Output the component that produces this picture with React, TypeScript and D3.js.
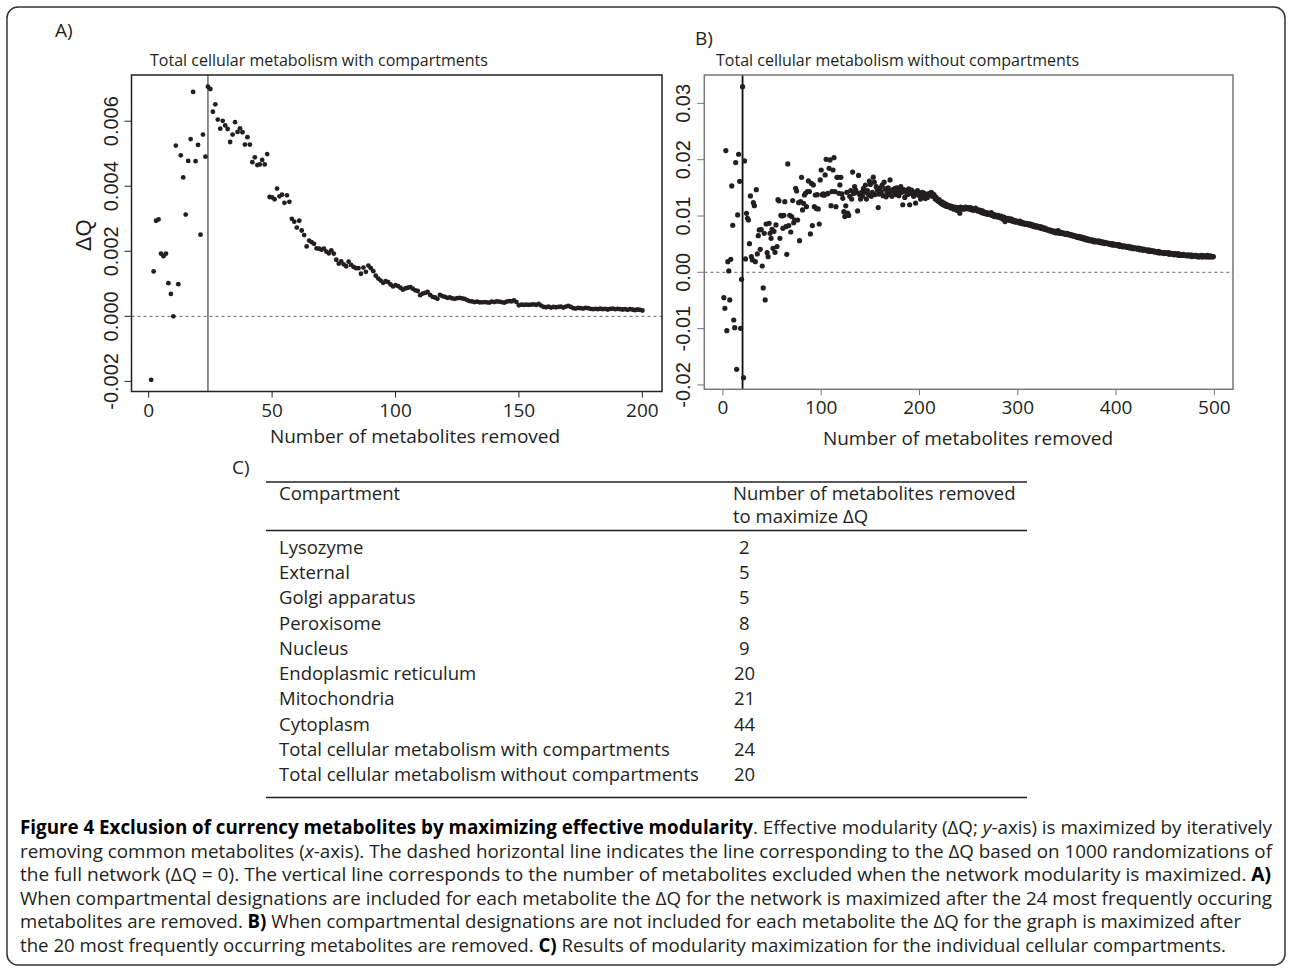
import React from "react";
import * as d3 from "d3";

// panel A: ΔQ (x 1e-5) for 1..200 metabolites removed, with compartments
const dqWith = [
  -195, 138, 294, 298, 193, 185, 193, 102, 69, 0,
  525, 99, 495, 427, 313, 478, 545, 690, 477, 527,
  251, 559, 491, 706, 699, 629, 652, 605, 577, 601,
  587, 576, 536, 559, 597, 567, 578, 566, 528, 551,
  528, 474, 489, 465, 467, 481, 467, 499, 367, 366,
  360, 393, 369, 374, 349, 372, 352, 300, 291, 273,
  294, 264, 250, 215, 233, 228, 223, 209, 208, 205,
  208, 199, 194, 203, 193, 174, 162, 169, 160, 154,
  168, 158, 152, 148, 148, 131, 150, 137, 156, 148,
  139, 125, 116, 110, 103, 108, 105, 98, 92, 96,
  93, 88, 82, 86, 88, 90, 85, 80, 78, 65,
  70, 72, 75, 66, 60, 58, 54, 66, 62, 60,
  57, 58, 55, 54, 56, 57, 55, 54, 50, 47,
  46, 44, 45, 43, 43, 44, 43, 42, 45, 44,
  46, 45, 44, 42, 45, 47, 46, 49, 44, 34,
  36, 35, 36, 35, 36, 37, 35, 38, 33, 29,
  28, 30, 27, 29, 28, 29, 30, 27, 30, 32,
  29, 25, 24, 26, 25, 24, 26, 25, 23, 22,
  23, 22, 24, 22, 23, 21, 23, 24, 22, 23,
  22, 21, 22, 20, 22, 21, 19, 21, 20, 18,
];

// panel B: ΔQ (x 1e-5) for 1..500 metabolites removed, without compartments
const dqWithout = [
  -450, -639, 2161, -1036, 189, 24, -491, 231, 1533, 835,
  -847, -983, 1948, -1723, 1018, 2096, 1616, -995, -124, 3297,
  -1871, 1977, 237, 1048, 959, 929, 509, 1356, 278, 219,
  1237, 1184, 189, 1468, 326, 651, 752, 408, 758, 112,
  -278, 693, -491, 858, 349, 278, 870, 693, 604, 764,
  426, 728, 355, 841, 456, 1290, 1270, 604, 1012, 1000,
  781, 1012, 1255, 811, 320, 1924, 829, 1012, 716, 989,
  1273, 882, 929, 1492, 1444, 929, 1237, 562, 1255, 1687,
  1107, 1225, 1373, 1403, 1166, 1433, 1622, 1433, 681, 1581,
  829, 1551, 1166, 1373, 1131, 1379, 1125, 858, 1640, 1817,
  1379, 1391, 1367, 1729, 2007, 1391, 1403, 1847, 1995, 1184,
  1433, 1817, 2036, 1433, 1166, 1687, 1687, 1403, 1551, 1687,
  1391, 1314, 1077, 989, 1180, 1420, 1050, 1010, 1350, 1450,
  1300, 1780, 1400, 1520, 1460, 1420, 1090, 1720, 1380, 1300,
  1420, 1350, 1490, 1420, 1550, 1300, 1450, 1380, 1620, 1560,
  1350, 1420, 1690, 1600, 1380, 1520, 1460, 1150, 1390, 1500,
  1430, 1550, 1360, 1600, 1480, 1340, 1420, 1500, 1380, 1640,
  1450, 1350, 1470, 1410, 1490, 1380, 1500, 1440, 1360, 1480,
  1520, 1420, 1200, 1470, 1330, 1450, 1410, 1380, 1480, 1200,
  1400, 1460, 1430, 1350, 1420, 1230, 1390, 1450, 1370, 1410,
  1300, 1380, 1420, 1340, 1400, 1310, 1370, 1330, 1390, 1400,
  1380, 1420, 1350, 1390, 1370, 1300, 1330, 1280, 1260, 1290,
  1240, 1220, 1250, 1200, 1230, 1180, 1210, 1170, 1190, 1160,
  1180, 1140, 1170, 1150, 1120, 1160, 1130, 1100, 1150, 1140,
  1050, 1160, 1130, 1150, 1120, 1140, 1160, 1130, 1150, 1140,
  1120, 1150, 1110, 1130, 1100, 1120, 1140, 1110, 1090, 1110,
  1080, 1100, 1060, 1090, 1050, 1070, 1040, 1060, 1030, 1050,
  1040, 1020, 1060, 1010, 1030, 990, 1020, 1000, 980, 1010,
  990, 970, 1000, 960, 940, 980, 900, 950, 930, 960,
  940, 920, 950, 910, 930, 900, 920, 890, 910, 900,
  880, 910, 870, 890, 860, 880, 870, 850, 870, 860,
  840, 860, 830, 850, 820, 840, 810, 830, 800, 820,
  810, 790, 810, 780, 800, 770, 790, 760, 770, 750,
  760, 740, 750, 730, 740, 720, 710, 730, 700, 720,
  740, 700, 690, 710, 690, 700, 680, 690, 670, 690,
  670, 680, 660, 670, 650, 660, 640, 650, 630, 640,
  620, 640, 610, 630, 600, 620, 590, 610, 580, 600,
  570, 590, 560, 580, 570, 550, 570, 540, 560, 550,
  540, 560, 530, 550, 520, 540, 530, 510, 530, 520,
  510, 520, 500, 510, 490, 510, 480, 500, 490, 480,
  490, 470, 490, 460, 480, 470, 450, 470, 460, 460,
  440, 460, 450, 430, 450, 440, 420, 440, 430, 420,
  430, 410, 430, 400, 420, 410, 390, 410, 400, 400,
  390, 380, 400, 370, 390, 380, 370, 380, 360, 370,
  360, 350, 370, 340, 360, 350, 340, 350, 330, 350,
  340, 330, 350, 320, 340, 330, 320, 330, 310, 330,
  320, 310, 330, 300, 320, 310, 300, 320, 300, 310,
  300, 290, 310, 300, 290, 310, 280, 300, 290, 290,
  300, 280, 290, 270, 290, 280, 300, 270, 290, 280,
  290, 270, 300, 280, 270, 290, 280, 270, 280,
];

const peakWith = 24;
const peakWithout = 20;

const xTicksA = [0, 50, 100, 150, 200];
const yTicksA = [-0.002, 0, 0.002, 0.004, 0.006];
const xTicksB = [0, 100, 200, 300, 400, 500];
const yTicksB = [-0.02, -0.01, 0, 0.01, 0.02, 0.03];

const compartments = [
  "Lysozyme",
  "External",
  "Golgi apparatus",
  "Peroxisome",
  "Nucleus",
  "Endoplasmic reticulum",
  "Mitochondria",
  "Cytoplasm",
  "Total cellular metabolism with compartments",
  "Total cellular metabolism without compartments",
];
const removedCounts = [2, 5, 5, 8, 9, 20, 21, 44, 24, 20];

// caption, one entry per printed line: [text, style]
const captionLines: [string, string][][] = [
  [
    ["Figure 4 Exclusion of currency metabolites by maximizing effective modularity", "b"],
    [". Effective modularity (ΔQ; ", ""],
    ["y", "i"],
    ["-axis) is maximized by iteratively", ""],
  ],
  [
    ["removing common metabolites (", ""],
    ["x", "i"],
    ["-axis). The dashed horizontal line indicates the line corresponding to the ΔQ based on 1000 randomizations of", ""],
  ],
  [
    ["the full network (ΔQ = 0). The vertical line corresponds to the number of metabolites excluded when the network modularity is maximized. ", ""],
    ["A)", "b"],
  ],
  [["When compartmental designations are included for each metabolite the ΔQ for the network is maximized after the 24 most frequently occuring", ""]],
  [
    ["metabolites are removed. ", ""],
    ["B)", "b"],
    [" When compartmental designations are not included for each metabolite the ΔQ for the graph is maximized after", ""],
  ],
  [
    ["the 20 most frequently occurring metabolites are removed. ", ""],
    ["C)", "b"],
    [" Results of modularity maximization for the individual cellular compartments.", ""],
  ],
];
const captionWidths = [1252, 1252, 1251, 1252, 1221, 1206];

const sans = "'Open Sans', sans-serif";
const helv = "'Liberation Sans', Arial, sans-serif";
const ink = "#231f20";

// R style: pad the data range by 4% on both sides
function padded(vals: number[]): [number, number] {
  const [lo, hi] = d3.extent(vals) as [number, number];
  const r = hi - lo;
  return [lo - 0.04 * r, hi + 0.04 * r];
}

function Scatter({ values, peak, xTicks, yTicks, box, title, titleX, xlabX, xlabDy, yFmt, vColor, boxColor, dot, ylabel }) {
  const ys = values.map((v) => v / 1e5);
  const xs = values.map((_, i) => i + 1);
  const x = d3.scaleLinear().domain(padded(xs)).range([box.left, box.right]);
  const y = d3.scaleLinear().domain(padded(ys)).range([box.bottom, box.top]);
  const fmt = d3.format(yFmt);
  return (
    <g>
      <text x={titleX} y={box.top - 9} fontFamily={sans} fontSize={16} fill={ink}>
        {title}
      </text>
      <line x1={box.left} x2={box.right} y1={y(0)} y2={y(0)} stroke="#666" strokeWidth={1} strokeDasharray="3,3" />
      <line x1={x(peak)} x2={x(peak)} y1={box.top} y2={box.bottom} stroke={vColor} strokeWidth={1.8} />
      {ys.map((v, i) => (
        <circle key={i} cx={x(xs[i])} cy={y(v)} r={dot} fill={ink} />
      ))}
      <rect
        x={box.left}
        y={box.top}
        width={box.right - box.left}
        height={box.bottom - box.top}
        fill="none"
        stroke={boxColor}
        strokeWidth={1.5}
      />
      {xTicks.map((t) => (
        <g key={t}>
          <line x1={x(t)} x2={x(t)} y1={box.bottom} y2={box.bottom + 6} stroke={boxColor} strokeWidth={1} />
          <text x={x(t)} y={box.bottom + 25} textAnchor="middle" fontFamily={sans} fontSize={19} fill={ink}>
            {t}
          </text>
        </g>
      ))}
      {yTicks.map((t) => (
        <g key={t}>
          <line x1={box.left - 7} x2={box.left} y1={y(t)} y2={y(t)} stroke={boxColor} strokeWidth={1} />
          <text
            transform={`translate(${box.left - 14},${y(t)}) rotate(-90)`}
            textAnchor="middle"
            fontFamily={helv}
            fontSize={20}
            fill={ink}
          >
            {fmt(t).replace("−", "-")}
          </text>
        </g>
      ))}
      <text x={xlabX} y={box.bottom + xlabDy} textAnchor="middle" fontFamily={sans} fontSize={19} fill={ink}>
        Number of metabolites removed
      </text>
      {ylabel && (
        <text
          transform={`translate(${box.left - 41},${(box.top + box.bottom) / 2 + 2}) rotate(-90)`}
          textAnchor="middle"
          fontFamily={helv}
          fontSize={22}
          fill={ink}
        >
          ΔQ
        </text>
      )}
    </g>
  );
}

export default function App() {
  const rowY = d3
    .scalePoint<string>()
    .domain(compartments)
    .range([554, 781]);

  return (
    <svg width={1292} height={972} style={{ position: "absolute", left: 0, top: 0, background: "#fff" }}>
      <rect x={7} y={7} width={1278} height={958} rx={11} fill="#fff" stroke="#333" strokeWidth={1.5} />

      <text x={55} y={37} fontFamily={sans} fontSize={19} fill={ink}>
        A)
      </text>
      <text x={695} y={45} fontFamily={sans} fontSize={19} fill={ink}>
        B)
      </text>

      <Scatter
        values={dqWith}
        peak={peakWith}
        xTicks={xTicksA}
        yTicks={yTicksA}
        box={{ left: 131.5, right: 662, top: 75, bottom: 391.5 }}
        title="Total cellular metabolism with compartments"
        titleX={150}
        xlabX={415}
        xlabDy={51}
        yFmt=".3f"
        vColor="#808080"
        boxColor="#222"
        dot={2.4}
        ylabel
      />
      <Scatter
        values={dqWithout}
        peak={peakWithout}
        xTicks={xTicksB}
        yTicks={yTicksB}
        box={{ left: 704.3, right: 1233, top: 75, bottom: 389.3 }}
        title="Total cellular metabolism without compartments"
        titleX={716}
        xlabX={968}
        xlabDy={56}
        yFmt=".2f"
        vColor="#111"
        boxColor="#777"
        dot={2.6}
        ylabel={false}
      />

      {/* C) table */}
      <text x={232} y={474} fontFamily={sans} fontSize={19} fill={ink}>
        C)
      </text>
      <line x1={266} x2={1027} y1={482} y2={482} stroke={ink} strokeWidth={1.3} />
      <line x1={266} x2={1027} y1={530.5} y2={530.5} stroke={ink} strokeWidth={1.3} />
      <line x1={266} x2={1027} y1={797.5} y2={797.5} stroke={ink} strokeWidth={1.3} />
      <text x={279} y={500} fontFamily={sans} fontSize={18.5} fill={ink}>
        Compartment
      </text>
      <text x={733} y={500} fontFamily={sans} fontSize={18.5} fill={ink}>
        Number of metabolites removed
      </text>
      <text x={733} y={523} fontFamily={sans} fontSize={18.5} fill={ink}>
        to maximize ΔQ
      </text>
      {compartments.map((c, i) => (
        <g key={c}>
          <text x={279} y={rowY(c)} fontFamily={sans} fontSize={18.5} fill={ink}>
            {c}
          </text>
          <text x={removedCounts[i] < 10 ? 739 : 734} y={rowY(c)} fontFamily={sans} fontSize={18.5} fill={ink}>
            {removedCounts[i]}
          </text>
        </g>
      ))}

      {/* caption: justified lines, glyphs stretched a little vertically like the condensed original */}
      {captionLines.map((segs, li) => (
        <g key={li} transform={`translate(20,${834 + li * 23.6}) scale(1,1.1)`}>
          <text
            x={0}
            y={0}
            fontFamily={sans}
            fontSize={17}
            fill={ink}
            textLength={captionWidths[li]}
            lengthAdjust="spacingAndGlyphs"
          >
            {segs.map(([t, s], si) => (
              <tspan
                key={si}
                fontWeight={s === "b" ? 700 : 400}
                fontStyle={s === "i" ? "italic" : "normal"}
                fill={s === "b" ? "#000" : ink}
              >
                {t}
              </tspan>
            ))}
          </text>
        </g>
      ))}
    </svg>
  );
}
